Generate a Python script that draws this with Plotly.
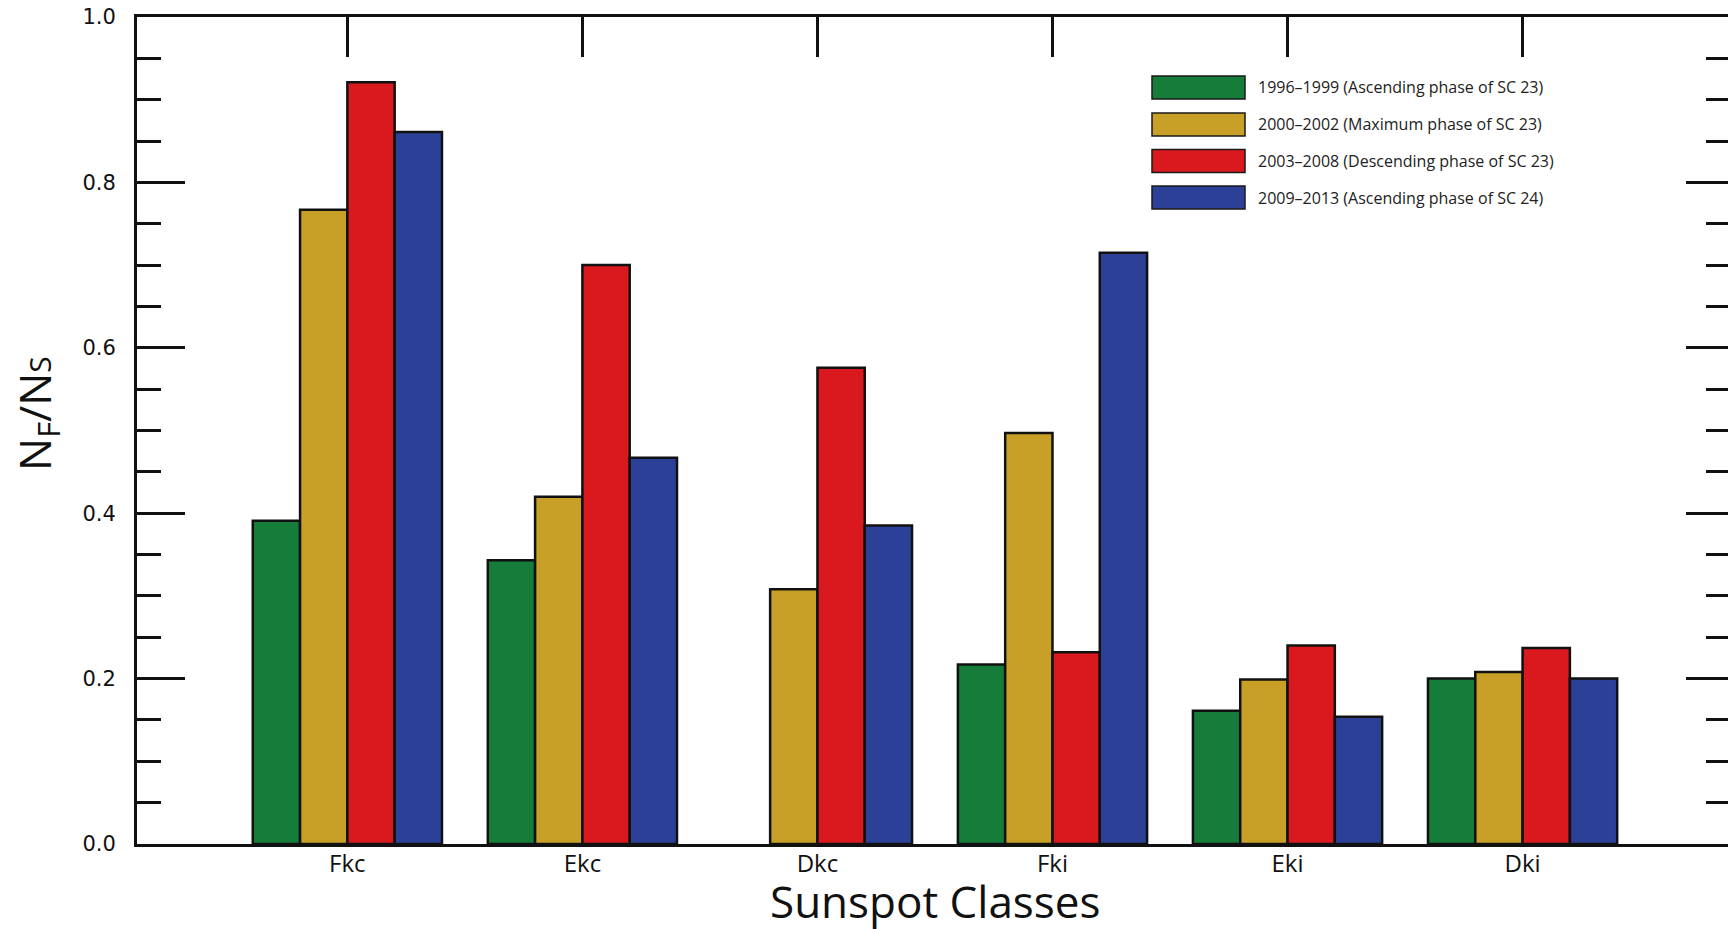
import plotly.graph_objects as go

# Sunspot classes on the x axis
classes = ["Fkc", "Ekc", "Dkc", "Fki", "Eki", "Dki"]

# Flare-productive fraction N_F / N_S for each phase of the solar cycle
asc_sc23 = [0.391, 0.343, None, 0.217, 0.161, 0.200]
max_sc23 = [0.767, 0.420, 0.308, 0.497, 0.199, 0.208]
desc_sc23 = [0.921, 0.700, 0.576, 0.232, 0.240, 0.237]
asc_sc24 = [0.861, 0.467, 0.385, 0.715, 0.154, 0.200]

series_names = [
    "1996\u20131999 (Ascending phase of SC 23)",
    "2000\u20132002 (Maximum phase of SC 23)",
    "2003\u20132008 (Descending phase of SC 23)",
    "2009\u20132013 (Ascending phase of SC 24)",
]
series_values = [asc_sc23, max_sc23, desc_sc23, asc_sc24]
series_colors = ["#157C3A", "#C8A027", "#DA191E", "#2C4097"]

W, H = 1728, 929
L, T, B = 137, 17, 85
plot_w = W - L
plot_h = H - T - B

LABEL_FONT = "Open Sans, Noto Sans, sans-serif"
TICK_FONT = "DejaVu Sans, Verdana, sans-serif"


def px_to_paper(x, y):
    return (x - L) / plot_w, (H - B - y) / plot_h


fig = go.Figure()
for name, vals, col in zip(series_names, series_values, series_colors):
    fig.add_trace(go.Bar(
        x=classes, y=vals, name=name,
        marker=dict(color=col, line=dict(color="#111111", width=2.5)),
        showlegend=False,
    ))

# Empty carrier trace so the right-hand tick axis is rendered
fig.add_trace(go.Scatter(
    x=[classes[0]], y=[0], yaxis="y2", mode="markers",
    marker=dict(opacity=0), showlegend=False, hoverinfo="skip",
))

# Hand-built legend with wide colour swatches in the upper right
row_tops = [76, 113, 149.5, 186]
for name, col, top in zip(series_names, series_colors, row_tops):
    x0, y0 = px_to_paper(1152, top + 23)
    x1, y1 = px_to_paper(1245, top)
    fig.add_shape(type="rect", xref="paper", yref="paper",
                  x0=x0, x1=x1, y0=y0, y1=y1,
                  fillcolor=col, line=dict(color="#1a1a1a", width=1.5))
    tx, ty = px_to_paper(1256, top + 11.5)
    fig.add_annotation(xref="paper", yref="paper", x=tx, y=ty,
                       text=name, showarrow=False, xanchor="left", yanchor="middle",
                       font=dict(family=LABEL_FONT, size=16, color="#222222"))

# Rotated y-axis title
ax, ay = px_to_paper(37, 414)
fig.add_annotation(xref="paper", yref="paper", x=ax, y=ay, textangle=-90,
                   text="N<sub>F</sub>/N<span style='font-size:30px'>S</span>",
                   showarrow=False, xanchor="center", yanchor="middle",
                   font=dict(family=LABEL_FONT, size=44, color="#111111"))

# X-axis title
tx, ty = px_to_paper(935, 901)
fig.add_annotation(xref="paper", yref="paper", x=tx, y=ty,
                   text="Sunspot Classes", showarrow=False,
                   xanchor="center", yanchor="middle",
                   font=dict(family=LABEL_FONT, size=44, color="#111111"))

fig.update_layout(
    width=W, height=H,
    margin=dict(l=L, r=0, t=T, b=B),
    paper_bgcolor="white", plot_bgcolor="white",
    barmode="group", bargap=0.195, bargroupgap=0,
    xaxis=dict(
        type="category", categoryorder="array", categoryarray=classes,
        range=[-0.895, 5.874],
        showline=True, linecolor="#111111", linewidth=2.5, mirror="ticks",
        ticks="inside", ticklen=40, tickwidth=2.5, tickcolor="#111111",
        showgrid=False, zeroline=False, layer="below traces",
        tickfont=dict(family=LABEL_FONT, size=24, color="#111111"),
        ticklabelstandoff=-4,
    ),
    yaxis=dict(
        range=[0, 1], dtick=0.2, tickformat=".1f",
        showline=True, linecolor="#111111", linewidth=3,
        ticks="inside", ticklen=48, tickwidth=2.5, tickcolor="#111111",
        minor=dict(dtick=0.05, ticks="inside", ticklen=24, tickwidth=2.5,
                   tickcolor="#111111", showgrid=False),
        showgrid=False, zeroline=False,
        tickfont=dict(family=TICK_FONT, size=21, color="#111111"),
        ticklabelstandoff=14,
    ),
    yaxis2=dict(
        overlaying="y", side="right", anchor="x", range=[0, 1], dtick=0.2,
        showline=False, showticklabels=False, showgrid=False, zeroline=False,
        ticks="inside", ticklen=42, tickwidth=2.5, tickcolor="#111111",
        minor=dict(dtick=0.05, ticks="inside", ticklen=22, tickwidth=2.5,
                   tickcolor="#111111", showgrid=False),
    ),
)

fig.write_html("out.html")
